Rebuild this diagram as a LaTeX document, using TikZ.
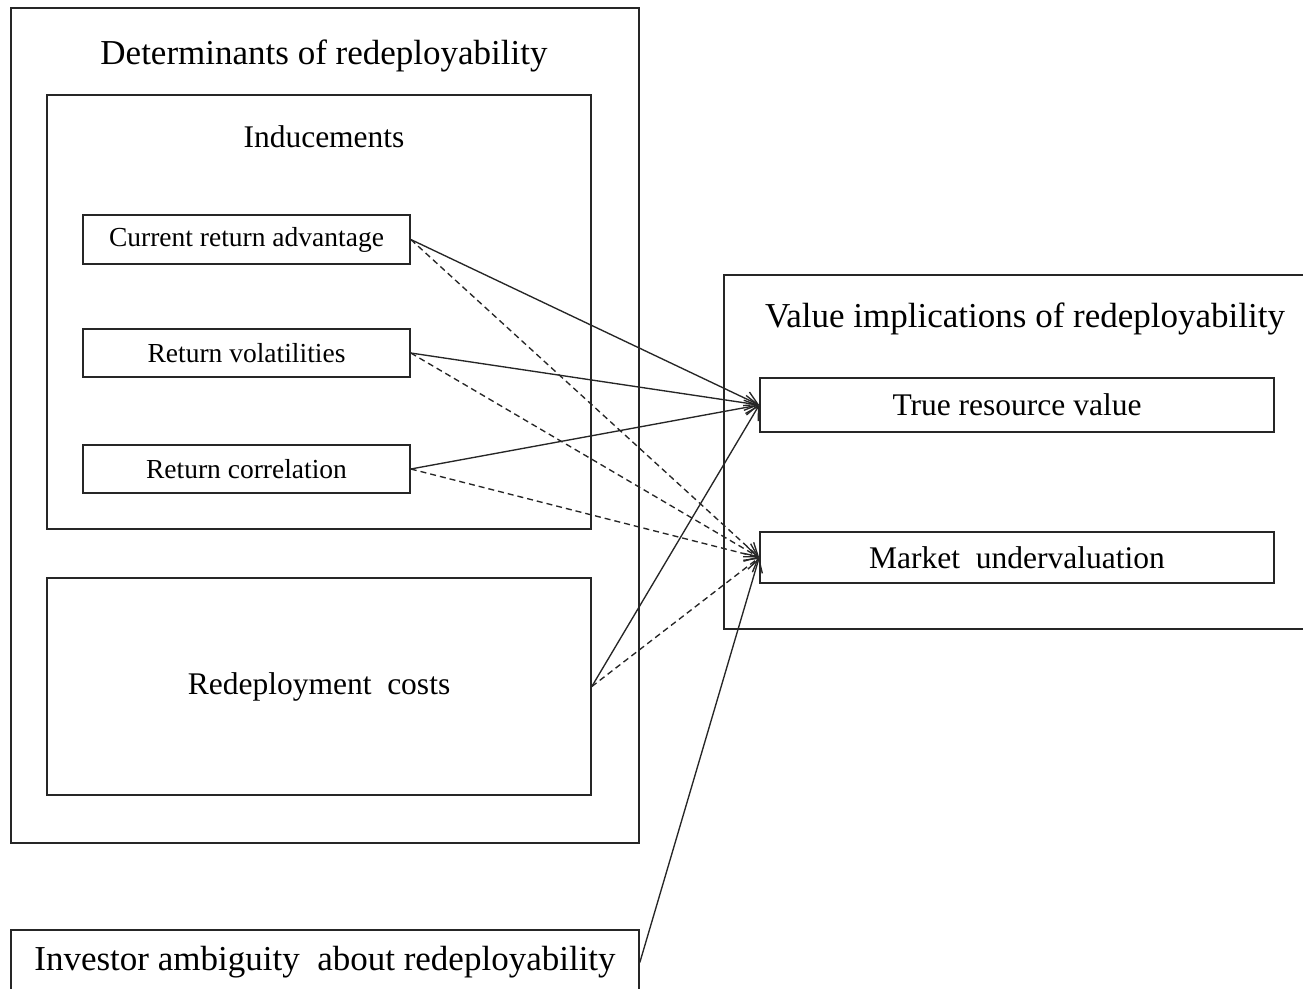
\documentclass[tikz,border=0pt]{standalone}
\usepackage{fontspec}
\setmainfont{Liberation Serif}
\usetikzlibrary{arrows.meta}
\begin{document}
\begin{tikzpicture}[x=1pt,y=-1pt,
  frame/.style={draw, line width=1.6pt, inner sep=0pt, align=center, draw=black!85},
  big/.style={font=\fontsize{35}{40}\selectfont},
  mid/.style={font=\fontsize{31.5}{36}\selectfont},
  sml/.style={font=\fontsize{27.5}{32}\selectfont},
  lbl/.style={inner sep=0pt},
  link/.style={line width=1.35pt, draw=black!85, -{Straight Barb[length=13pt,width=15pt]}},
  dlink/.style={link, dash pattern=on 6pt off 4pt}]
\clip (0,0) rectangle (1303,988);
% containers
\node[frame, minimum width=628, minimum height=835] (left) at (325,425.5) {};
\node[lbl, big] (lefttitle) at (324,56) {Determinants of redeployability};
\node[frame, minimum width=544, minimum height=434] (ind) at (319,312) {};
\node[lbl, mid] (indtitle) at (324,137) {Inducements};
\node[frame, minimum width=596, minimum height=354] (right) at (1022,452) {};
\node[lbl, big] (righttitle) at (1025,319) {Value implications of redeployability};
% boxes
\node[frame, sml, minimum width=327, minimum height=49] (cra) at (246.5,239.5) {Current return advantage};
\node[frame, sml, minimum width=327, minimum height=48] (rv) at (246.5,353) {Return volatilities};
\node[frame, sml, minimum width=327, minimum height=48] (rcor) at (246.5,469) {Return correlation};
\node[frame, mid, minimum width=544, minimum height=217] (rc) at (319,686.5) {Redeployment\ \ costs};
\node[frame, mid, minimum width=514, minimum height=54] (trv) at (1017,405) {True resource value};
\node[frame, mid, minimum width=514, minimum height=51] (mu) at (1017,557.5) {Market\ \ undervaluation};
\node[frame, big, minimum width=628, minimum height=65] (ia) at (325,962.5) {Investor ambiguity\ \ about redeployability};
% connectors
\draw[link] (cra.east) -- (trv.west);
\draw[link] (rv.east) -- (trv.west);
\draw[link] (rcor.east) -- (trv.west);
\draw[link] (rc.east) -- (trv.west);
\draw[dlink] (cra.east) -- (mu.west);
\draw[dlink] (rv.east) -- (mu.west);
\draw[dlink] (rcor.east) -- (mu.west);
\draw[dlink] (rc.east) -- (mu.west);
\draw[link] (ia.east) -- (mu.west);
\end{tikzpicture}
\end{document}
